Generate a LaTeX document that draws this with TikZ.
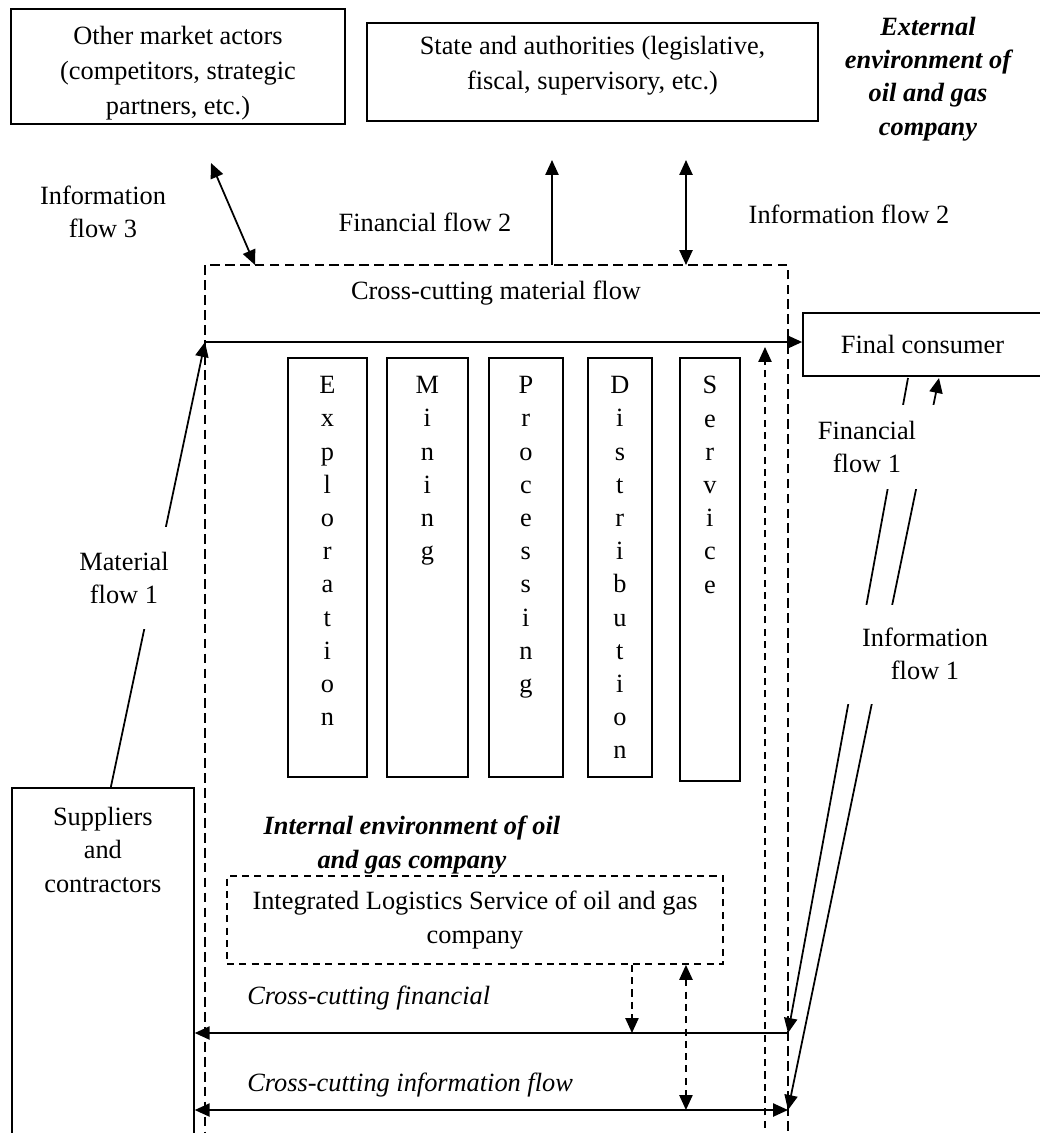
\documentclass[tikz,border=0pt]{standalone}
\usepackage{fontspec}
\setmainfont{Liberation Serif}
\usetikzlibrary{arrows.meta,positioning,calc}

\begin{document}
\begin{tikzpicture}[
x=0.02cm, y=-0.02cm,
font=\fontsize{15}{18.9}\selectfont,
box/.style={draw, line width=1pt, align=center, inner sep=0pt},
colbox/.style={box, anchor=north west, minimum height=8.38cm},
letters/.style={anchor=north, yshift=-0.38cm, align=center, inner sep=0pt},
inbox/.style={align=center, inner sep=0pt, font=\fontsize{15}{19.9}\selectfont},
firmline/.style={draw, line width=1pt, dash pattern=on 5.5pt off 3pt},
envtext/.style={align=center, inner sep=0pt, font=\fontsize{15}{18.9}\selectfont\bfseries\itshape},
flowtext/.style={anchor=west, inner sep=0pt, font=\fontsize{15}{18.9}\selectfont\itshape},
gap/.style={align=center, fill=white, inner sep=0pt},
flow/.style={-{Triangle[length=8.5pt,width=7.5pt]}, line width=1pt},
biflow/.style={{Triangle[length=8.5pt,width=7.5pt]}-{Triangle[length=8.5pt,width=7.5pt]}, line width=1pt},
dflow/.style={flow, dash pattern=on 4pt off 3pt},
bidflow/.style={biflow, dash pattern=on 4pt off 3pt}
]
\useasboundingbox (0,0) rectangle (1040,1133);

% external environment
\node[box, minimum width=6.68cm, minimum height=2.3cm, label={[inbox, yshift=-0.14cm]center:{Other market actors\\(competitors, strategic\\partners, etc.)}}] (actors) at (178,66.5) {};
\node[box, minimum width=9.02cm, minimum height=1.96cm, label={[inbox, yshift=0.12cm]center:{State and authorities (legislative,\\fiscal, supervisory, etc.)}}] (state) at (592.5,72) {};
\node[envtext] (external) at (928,79) {External\\environment of\\oil and gas\\company};
\node[box, minimum width=4.78cm, minimum height=1.26cm] (consumer) at (922.5,344.5) {Final consumer};
\node[box, anchor=north west, minimum width=3.64cm, minimum height=7.3cm, label={[letters, yshift=-0.02cm]north:{Suppliers\\and\\contractors}}] (supp) at (11,787) {};

% company
\node[firmline, minimum width=11.66cm, minimum height=17.9cm, inner sep=0pt] (firm) at (496.5,712.5) {};
\node (crossmat) at (496,293) {Cross-cutting material flow};
\node[colbox, minimum width=1.58cm, label={[letters]north:{E\\x\\p\\l\\o\\r\\a\\t\\i\\o\\n}}] (expl) at (287,357) {};
\node[colbox, minimum width=1.62cm, label={[letters]north:{M\\i\\n\\i\\n\\g}}] (mining) at (386,357) {};
\node[colbox, minimum width=1.48cm, label={[letters]north:{P\\r\\o\\c\\e\\s\\s\\i\\n\\g}}] (proc) at (488,357) {};
\node[colbox, minimum width=1.28cm, label={[letters]north:{D\\i\\s\\t\\r\\i\\b\\u\\t\\i\\o\\n}}] (distr) at (587,357) {};
\node[colbox, minimum width=1.2cm, minimum height=8.46cm, label={[letters]north:{S\\e\\r\\v\\i\\c\\e}}] (serv) at (679,357) {};
\node[envtext] (internal) at (412,845) {Internal environment of oil\\and gas company};
\node[box, dash pattern=on 4pt off 3pt, minimum width=9.92cm, minimum height=1.76cm] (ils) at (475,920) {Integrated Logistics Service of oil and gas\\company};
\node[flowtext] (crossfin) at (247,998) {Cross-cutting financial};
\node[flowtext] (crossinf) at (247,1085) {Cross-cutting information flow};

% flow labels
\node[align=center] (inf3) at (103,212) {Information\\flow 3};
\node (fin2) at (425,222) {Financial flow 2};
\node (inf2) at (849,214) {Information flow 2};

\coordinate (if3a) at (211,163);
\coordinate (if3b) at (255,265);
\coordinate (ff2a) at (552,265);
\coordinate (ff2b) at (552,160);
\coordinate (if2a) at (686,265);
\coordinate (if2b) at (686,160);
\coordinate (matL) at (205,342);
\coordinate (consA) at (908,378);
\coordinate (consB) at (939,378);
\coordinate (finR) at (788,1033);
\coordinate (infR) at (788,1110);
\coordinate (retTop) at (765,347);
\coordinate (retBot) at (765,1140);

\draw[biflow] (if3a) -- (if3b);
\draw[flow] (ff2a) -- (ff2b);
\draw[biflow] (if2a) -- (if2b);
\draw[flow] (matL) -- (matL -| consumer.west);
\draw[flow] ([xshift=0.16cm]supp.north) -- (matL);
\draw[flow] (consA) -- (finR);
\draw[biflow] (consB) -- (infR);
\draw[flow] (finR) -- (finR -| supp.east);
\draw[biflow] (infR -| supp.east) -- (infR);
\draw[dflow] ([xshift=3.14cm]ils.south) -- ([xshift=3.14cm]ils.south |- finR);
\draw[bidflow] ([xshift=4.22cm]ils.south) -- ([xshift=4.22cm]ils.south |- infR);
\draw[dflow] (retBot) -- (retTop);

% labels that cut the lines
\node[gap, minimum width=2.16cm, minimum height=2.06cm] (mat1) at (124,578) {Material\\flow 1};
\node[gap, minimum width=2.9cm, minimum height=1.7cm] (fin1) at (867,447) {Financial\\flow 1};
\node[gap, minimum width=3.2cm, minimum height=1.98cm] (inf1) at (925,654) {Information\\flow 1};
\end{tikzpicture}
\end{document}
